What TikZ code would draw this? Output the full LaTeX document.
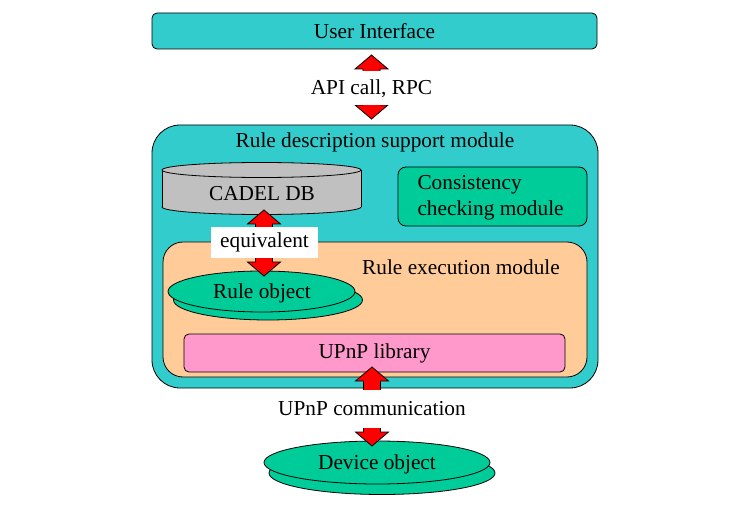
\documentclass[tikz,border=0pt]{standalone}
\usepackage{fontspec}
\setmainfont{Liberation Serif}
\usetikzlibrary{calc,shapes.geometric}
\definecolor{cteal}{HTML}{33CCCC}
\definecolor{cgreen}{HTML}{00CC99}
\definecolor{cpeach}{HTML}{FFCC99}
\definecolor{cpink}{HTML}{FF99CC}
\definecolor{cgray}{HTML}{C0C0C0}
\newcommand\fatarrow[2]{%
 \path let \p1=(#1), \p2=(#2) in [draw=black, fill=red, line width=0.8pt, line join=miter]
  (\x1,\y1) -- (\x1+16.5pt,\y1-14pt) -- (\x1+8.5pt,\y1-14pt) -- (\x1+8.5pt,\y2+14pt)
  -- (\x1+16.5pt,\y2+14pt) -- (\x1,\y2) -- (\x1-16.5pt,\y2+14pt) -- (\x1-8.5pt,\y2+14pt)
  -- (\x1-8.5pt,\y1-14pt) -- (\x1-16.5pt,\y1-14pt) -- cycle;}
\begin{document}
\begin{tikzpicture}[x=1pt,y=-1pt,
  every node/.style={font=\fontsize{21.3}{26}\selectfont, text=black},
  box/.style={draw=black, line width=0.8pt, inner sep=0pt},
  lbl/.style={fill=white, inner sep=2pt},
  oval/.style={ellipse, draw=black, line width=0.8pt, fill=cgreen, inner sep=0pt}]
\useasboundingbox (0,0) rectangle (756,508);
% user interface
\node[box, fill=cteal, rounded corners=5, minimum width=445, minimum height=36] (ui) at (374.5,31) {User Interface};
% big module
\node[box, fill=cteal, rounded corners=28, minimum width=446, minimum height=263] (rdsm) at (375,256.5) {};
\node (rdsmt) at (375,142) {Rule description support module};
% CADEL DB cylinder
\fill[cgray, draw=black, line width=0.8pt] (261.5,207) ellipse[x radius=99.5, y radius=7.5];
\fill[cgray] (162,170) rectangle (361,207);
\draw[line width=0.8pt] (162,170) -- (162,207) (361,170) -- (361,207);
\draw[fill=cgray, line width=0.8pt] (261.5,170) ellipse[x radius=99.5, y radius=7.5];
\node (db) at (262,194) {CADEL DB};
% consistency
\node[box, fill=cgreen, rounded corners=8, minimum width=189, minimum height=59] (cc) at (492.5,196.5) {};
\node[align=left, anchor=west] (cct) at (414,198) {Consistency\\checking module};
% rule execution module
\node[box, fill=cpeach, rounded corners=20, minimum width=424, minimum height=135] (rem) at (375,309.5) {};
\node (remt) at (461,267) {Rule execution module};
% rule object
\node[oval, minimum width=189, minimum height=40] (ro2) at (268,300) {};
\node[oval, minimum width=187, minimum height=41] (ro) at (261.5,291.5) {};
\node (rot) at (262,293.5) {Rule object};
% UPnP library
\node[box, fill=cpink, rounded corners=5, minimum width=381, minimum height=38] (lib) at (374.5,353) {UPnP library};
% device object
\node[oval, minimum width=226, minimum height=43] (dev2) at (382,473) {};
\node[oval, minimum width=226, minimum height=43] (dev) at (377,462.5) {};
\node (devt) at (377,464.5) {Device object};
% arrows
\coordinate (a1t) at (371.5,55);
\coordinate (a1b) at (371.5,119);
\coordinate (a2t) at (264,210);
\coordinate (a2b) at (264,276);
\coordinate (a3t) at (372,367);
\coordinate (a3b) at (372,446);
\fatarrow{a1t}{a1b}
\fatarrow{a2t}{a2b}
\fatarrow{a3t}{a3b}
% labels
\node[lbl, minimum height=34] (api) at (371.5,88.5) {API call, RPC};
\node[fill=white, inner sep=0pt, minimum width=107, minimum height=31] (eq) at (264.5,242.5) {equivalent};
\node[lbl, minimum height=38] (upc) at (372,409) {UPnP communication};
\end{tikzpicture}
\end{document}
